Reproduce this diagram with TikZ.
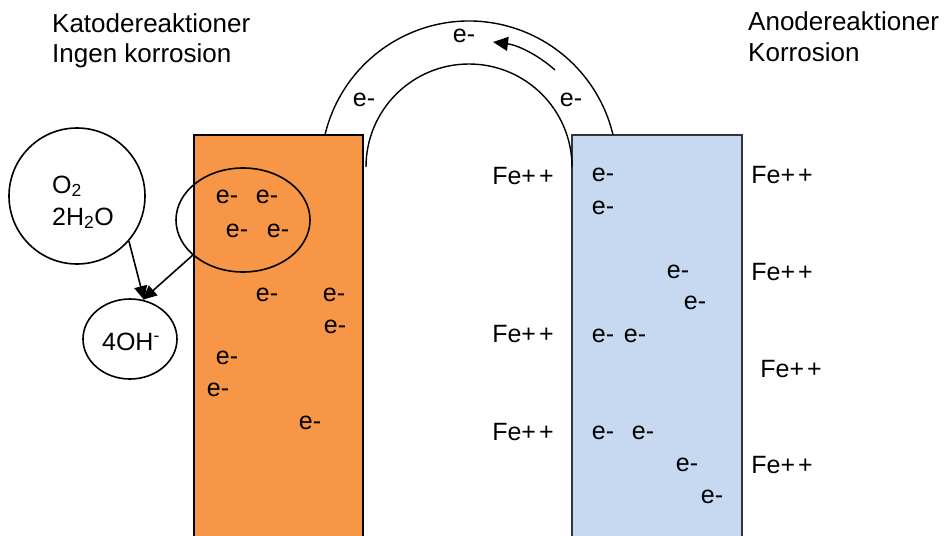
\documentclass[tikz,border=0pt]{standalone}
\usepackage{fontspec}
\setmainfont{Liberation Sans}
\usetikzlibrary{arrows.meta,shapes.geometric}
\definecolor{cathode}{HTML}{F79646}
\definecolor{anode}{HTML}{C6D9F1}
\definecolor{anodeline}{HTML}{2E3440}
\tikzset{
  lbl/.style={inner sep=0pt,font=\fontsize{25}{29}\selectfont},
  title/.style={inner sep=0pt,anchor=base west,align=left,font=\fontsize{26}{30}\selectfont},
  bubble/.style={draw,line width=1.6pt,inner sep=0pt},
  flow/.style={line width=1.6pt,-{Triangle[length=14pt,width=13pt]}},
  archline/.style={line width=1.4pt},
}
\begin{document}
\begin{tikzpicture}[x=1pt,y=-1pt]
\useasboundingbox (0,0) rectangle (944,535);
\begin{scope}
\clip (0,0) rectangle (944,535);
% electrodes
\fill[cathode] (194,135) rectangle (363,540);
\draw[line width=2.4pt] (194,540) |- (363,135) -- (363,540);
\fill[anode] (572,135) rectangle (742,540);
\draw[anodeline,line width=2.4pt] (572,540) |- (742,135) -- (742,540);
% arch (wire)
\draw[archline] (469,169) ++(193.3:148) arc[start angle=193.3,end angle=346.7,radius=148];
\draw[archline] (366,167) arc[start angle=180,end angle=360,radius=103];
\end{scope}
% arrow in arch
\coordinate (atail) at (555,70);
\coordinate (ahead) at (493,42);
\draw[line width=1.4pt,-{Triangle[length=15pt,width=14pt]}] (atail) .. controls (537,54) and (517,45) .. (ahead);
\node[lbl] (w1) at (464,36) {e-};
\node[lbl] (w2) at (364,100) {e-};
\node[lbl] (w3) at (571,100) {e-};
% titles
\node[title] (t1) at (52,33) {Katodereaktioner};
\node[title] (t2) at (52,63) {Ingen korrosion};
\node[title] (t3) at (748,31) {Anodereaktioner};
\node[title] (t4) at (748,62) {Korrosion};
% circles
\node[bubble,circle,minimum size=136pt] (o2) at (77,196) {};
\node[lbl,anchor=base west] (o2t) at (52,193) {O\textsubscript{2}};
\node[lbl,anchor=base west] (h2o) at (52,225) {2H\textsubscript{2}O};
\node[bubble,ellipse,minimum width=94pt,minimum height=80pt] (oh) at (130,339) {};
\node[lbl] (oht) at (131,342) {4OH\textsuperscript{-}};
\node[bubble,ellipse,minimum width=134pt,minimum height=104pt] (grp) at (243,220) {};
\draw[flow] (o2.-41) -- (oh.70);
\draw[flow] (grp.215) -- (oh.72);
% electrons in cathode
\node[lbl] (c1) at (227,197) {e-};
\node[lbl] (c2) at (267,197) {e-};
\node[lbl] (c3) at (237,231) {e-};
\node[lbl] (c4) at (278,231) {e-};
\node[lbl] (c5) at (267,295) {e-};
\node[lbl] (c6) at (334,295) {e-};
\node[lbl] (c7) at (335,327) {e-};
\node[lbl] (c8) at (227,358) {e-};
\node[lbl] (c9) at (218,390) {e-};
\node[lbl] (c10) at (310,423) {e-};
% electrons in anode
\node[lbl] (a1) at (603,175) {e-};
\node[lbl] (a2) at (603,208) {e-};
\node[lbl] (a3) at (678,272) {e-};
\node[lbl] (a4) at (695,303) {e-};
\node[lbl] (a5) at (603,336) {e-};
\node[lbl] (a6) at (635,336) {e-};
\node[lbl] (a7) at (603,433) {e-};
\node[lbl] (a8) at (643,433) {e-};
\node[lbl] (a9) at (687,465) {e-};
\node[lbl] (a10) at (712,497) {e-};
% iron ions
\node[lbl] (f1) at (523,176) {Fe+\kern3pt+};
\node[lbl] (f2) at (523,334) {Fe+\kern3pt+};
\node[lbl] (f3) at (523,432) {Fe+\kern3pt+};
\node[lbl] (f4) at (782,175) {Fe+\kern3pt+};
\node[lbl] (f5) at (782,272) {Fe+\kern3pt+};
\node[lbl] (f6) at (791,369) {Fe+\kern3pt+};
\node[lbl] (f7) at (782,465) {Fe+\kern3pt+};
\end{tikzpicture}
\end{document}
